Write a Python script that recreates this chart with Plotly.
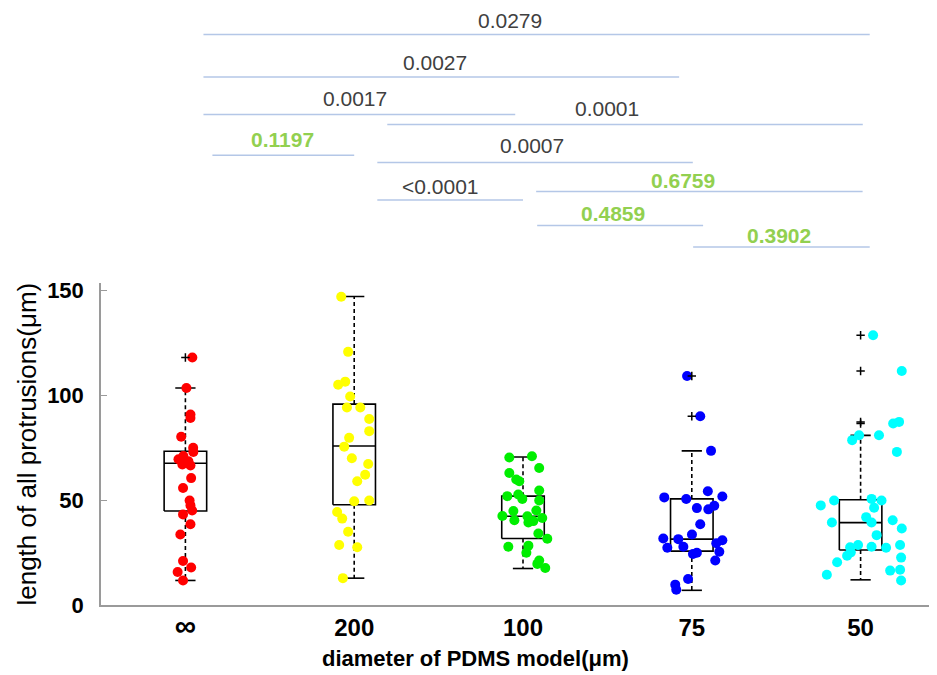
import plotly.graph_objects as go

# ---------------- data ----------------
categories = ["<span style='font-size:30px'>∞</span>", "200", "100", "75", "50"]
group_pos = [1, 2, 3, 4, 5]

inf_vals = [118, 103.5, 90.8, 89.2, 80.2, 75, 73, 71, 69.5, 68.5, 67, 66.5, 60.5, 55.8,
            49.8, 47.5, 45.1, 43.2, 38.5, 33.6, 21, 17.9, 15.7, 11.7]
d200_vals = [147, 120.7, 105, 106.5, 99.4, 94.2, 94.2, 88.7, 82.9, 79.7, 75.5, 70, 67.2,
             62.1, 59, 49.5, 49.8, 44.3, 41.2, 34.9, 28.6, 27.5, 12.8]
d100_vals = [70.3, 70.9, 65.3, 62.9, 59.8, 59, 54.6, 51.9, 52.7, 50.6, 49.8, 44.8, 45.1,
             42.4, 42.3, 41.5, 40.4, 39.3, 40, 34.1, 31.6, 27.8, 28.3, 24.9, 21.2, 19.6, 17.6]
d75_vals = [109.2, 90, 73.5, 51.3, 50.5, 54.2, 51.7, 46.2, 45.6, 47.3, 38.5, 33.6, 31.7,
            31.4, 27.8, 27.3, 30.9, 29.4, 24.9, 24.3, 25.4, 21.2, 12.4, 9.7, 7.3]
d50_vals = [128.6, 111.6, 86.5, 87.3, 80.9, 78.6, 80.9, 73, 47.5, 49.8, 50.6, 49.8, 46.4,
            39.3, 41.9, 39.3, 40.4, 36.5, 33.3, 27.5, 28.6, 27.8, 27.3, 28.6, 23.5, 25.1,
            22.6, 20.4, 16.4, 16.8, 14.4, 11.7]

# horizontal scatter (jitter), in category units
inf_jit = [0.041, 0.006, 0.030, 0.030, -0.025, 0.046, 0.047, -0.012, -0.041, 0.018, -0.018,
           0.030, 0.034, -0.014, 0.025, 0.030, 0.040, -0.014, 0.030, -0.030, -0.014, 0.034,
           -0.046, -0.014]
d200_jit = [-0.077, -0.036, -0.095, -0.053, -0.024, -0.043, 0.036, 0.089, 0.089, -0.030,
            -0.059, -0.014, 0.083, 0.065, 0.018, 0.0, 0.089, -0.101, -0.071, -0.036, -0.089,
            0.018, -0.067]
d100_jit = [-0.081, 0.053, 0.096, -0.081, -0.040, -0.022, 0.096, -0.093, -0.028, -0.004,
            0.096, -0.057, 0.079, -0.122, 0.026, 0.114, -0.051, 0.032, 0.061, 0.091, 0.144,
            -0.087, 0.032, 0.020, 0.096, 0.085, 0.132]
d75_jit = [-0.028, 0.050, 0.114, -0.163, -0.033, 0.095, 0.181, 0.030, 0.098, 0.133, 0.050,
           0.001, -0.169, -0.080, -0.050, -0.145, 0.181, 0.145, 0.030, 0.007, 0.163, 0.139,
           -0.022, -0.098, -0.092]
d50_jit = [0.074, 0.244, 0.193, 0.228, -0.009, -0.050, 0.109, 0.215, -0.236, -0.157, 0.065,
           0.124, 0.080, -0.170, 0.033, 0.065, 0.190, 0.244, 0.095, -0.062, -0.015, 0.065,
           0.151, 0.234, -0.080, -0.058, 0.240, -0.139, 0.175, 0.234, -0.200, 0.240]

groups_vals = [inf_vals, d200_vals, d100_vals, d75_vals, d50_vals]
groups_jit = [inf_jit, d200_jit, d100_jit, d75_jit, d50_jit]
dot_colors = ["#FF0000", "#FFFF00", "#00EE00", "#0000FF", "#00FFFF"]

# box statistics
q1 = [44.8, 47.8, 31.7, 25.7, 26.2]
median = [67.6, 75.8, 42.3, 31.4, 39.3]
q3 = [73.3, 95.8, 51.9, 50.6, 50.2]
whisk_lo = [11.7, 12.8, 17.4, 7.0, 12.0]
whisk_hi = [103.5, 147.1, 70.6, 73.5, 80.9]
outliers = [[118], [], [], [109.2, 90], [128.6, 111.6, 87.3, 86.5]]

# pairwise comparisons (p values)
sig_text = ["0.0279", "0.0027", "0.0017", "0.0001", "0.1197", "0.0007", "<0.0001",
            "0.6759", "0.4859", "0.3902"]
sig_ns = [False, False, False, False, True, False, False, True, True, True]
sig_from = [1.107, 1.107, 1.107, 2.196, 1.160, 2.137, 2.137, 3.078, 3.084, 4.008]
sig_to = [5.054, 3.925, 2.954, 5.013, 2.0, 4.006, 3.0, 5.012, 4.067, 5.054]
sig_line_h = [33.3, 76, 114, 124, 155, 162.3, 200.3, 191.7, 226, 247.7]
sig_text_x = [2.924, 2.480, 2.007, 3.499, 1.574, 3.054, 2.513, 3.948, 3.534, 4.517]
sig_text_h = [19, 61.5, 98, 108, 139, 145.5, 186.5, 181, 214, 236.5]

# ---------------- figure ----------------
fig = go.Figure()

BOX_HW = 0.126
CAP_HW = 0.06

for i, c in enumerate(group_pos):
    fig.add_trace(go.Scatter(x=[c, c, None, c, c], y=[q3[i], whisk_hi[i], None, q1[i], whisk_lo[i]],
                             mode="lines", line=dict(color="black", width=1.6, dash="4px,3px"),
                             hoverinfo="skip", showlegend=False))
    fig.add_trace(go.Scatter(x=[c - CAP_HW, c + CAP_HW, None, c - CAP_HW, c + CAP_HW],
                             y=[whisk_hi[i], whisk_hi[i], None, whisk_lo[i], whisk_lo[i]],
                             mode="lines", line=dict(color="black", width=1.6),
                             hoverinfo="skip", showlegend=False))
    fig.add_trace(go.Scatter(x=[c - BOX_HW, c + BOX_HW, c + BOX_HW, c - BOX_HW, c - BOX_HW, None,
                                c - BOX_HW, c + BOX_HW],
                             y=[q1[i], q1[i], q3[i], q3[i], q1[i], None, median[i], median[i]],
                             mode="lines", line=dict(color="black", width=1.6),
                             hoverinfo="skip", showlegend=False))

for i, c in enumerate(group_pos):
    fig.add_trace(go.Scatter(x=[c + j for j in groups_jit[i]], y=groups_vals[i], mode="markers",
                             marker=dict(color=dot_colors[i], size=10, line=dict(width=0)),
                             showlegend=False))
    if outliers[i]:
        fig.add_trace(go.Scatter(x=[c] * len(outliers[i]), y=outliers[i], mode="markers",
                                 marker=dict(symbol="cross-thin", size=6,
                                             line=dict(color="black", width=1.5)),
                                 showlegend=False))

for k in range(len(sig_text)):
    fig.add_trace(go.Scatter(x=[sig_from[k], sig_to[k]], y=[sig_line_h[k], sig_line_h[k]],
                             yaxis="y2", mode="lines", line=dict(color="#B4C7E7", width=1.5),
                             hoverinfo="skip", showlegend=False))
    fig.add_annotation(x=sig_text_x[k], y=sig_text_h[k], xref="x", yref="y2",
                       text=("<b>%s</b>" % sig_text[k]) if sig_ns[k] else sig_text[k],
                       showarrow=False, xanchor="center", yanchor="middle",
                       font=dict(family="Liberation Sans, Arial, sans-serif", size=21,
                                 color="#92D050" if sig_ns[k] else "#404040"))

OFF = 8                      # page body margin
W, H = 937 - OFF, 675 - OFF
ML = 100.5 - OFF
PLOT_BOTTOM = 605.5 - OFF
MB = H - PLOT_BOTTOM
PLOT_TOP = 281 - OFF
y_dom_top = (PLOT_BOTTOM - PLOT_TOP) / PLOT_BOTTOM
SHIFT = 3.5                  # small vertical correction of the bracket area

def px_to_paper_x(px):
    return (px - OFF - ML) / (W - ML)

def px_to_paper_y(py):
    return (PLOT_BOTTOM - (py - OFF)) / PLOT_BOTTOM

fig.update_layout(
    width=W, height=H,
    margin=dict(l=ML, r=0, t=0, b=MB),
    plot_bgcolor="white", paper_bgcolor="white",
    xaxis=dict(range=[0.5, 0.5 + (W - ML) / 168.9], tickvals=group_pos, ticktext=categories,
               showline=True, linecolor="#9a9a9a", linewidth=1.5, ticks="",
               showgrid=False, zeroline=False,
               tickfont=dict(family="Liberation Sans, Arial, sans-serif", size=24, color="black",
                             weight="bold")),
    yaxis=dict(domain=[0, y_dom_top], range=[0, 153.3], tickvals=[0, 50, 100, 150],
               showline=True, linecolor="#9a9a9a", linewidth=1.5, ticks="inside", ticklen=6,
               tickcolor="#9a9a9a", showgrid=False, zeroline=False, ticklabelstandoff=11,
               tickfont=dict(family="Liberation Sans, Arial, sans-serif", size=22, color="black",
                             weight="bold")),
    yaxis2=dict(domain=[y_dom_top, 1], range=[281 + SHIFT, OFF + SHIFT], visible=False, anchor="x"),
)

fig.add_annotation(text="length of all protrusions(μm)", xref="paper", yref="paper",
                   x=px_to_paper_x(26), y=px_to_paper_y(443), textangle=-90,
                   showarrow=False, xanchor="center", yanchor="middle",
                   font=dict(family="Liberation Sans, Arial, sans-serif", size=26, color="black"))
fig.add_annotation(text="<b>diameter of PDMS model(μm)</b>", xref="paper", yref="paper",
                   x=px_to_paper_x(475), y=px_to_paper_y(660),
                   showarrow=False, xanchor="center", yanchor="middle",
                   font=dict(family="Liberation Sans Narrow, Arial Narrow, sans-serif", size=22,
                             color="black"))

fig.write_html("out.html")
